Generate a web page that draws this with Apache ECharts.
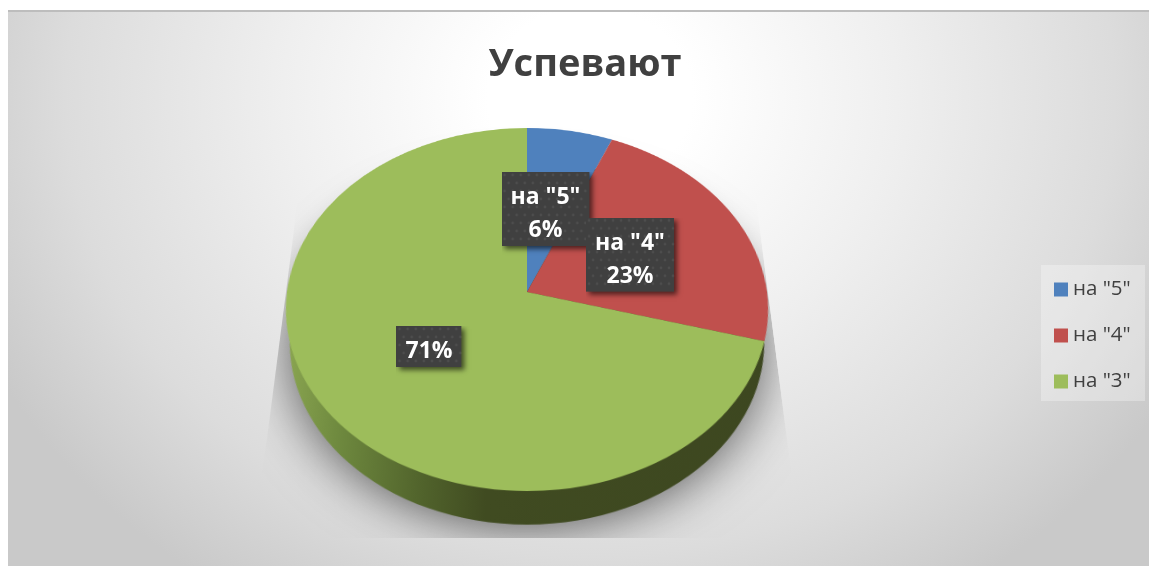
<!DOCTYPE html>
<html>
<head>
<meta charset="utf-8">
<style>
html, body { margin: 0; padding: 0; width: 1149px; height: 566px; overflow: hidden; background: #fff; }
#plate {
    position: absolute; left: 8px; top: 10px; width: 1141px; height: 556px;
    border-top: 2px solid #bdbdbd; box-sizing: border-box;
    background: radial-gradient(ellipse 640px 560px at 582px 85px, #fff 0%, #fff 16%, #efefef 48%, #dcdcdc 82%, #c9c9c9 105%);
}
/* plane of the pie, tilted with the same perspective as the original */
#pieChart {
    position: absolute; left: 286px; top: 2px; width: 482px; height: 580px;
    transform-origin: 241px 290px;
    transform: perspective(1647px) rotateX(41.46deg);
}
#textChart { position: absolute; left: 0; top: 0; width: 1149px; height: 566px; }
</style>
<script src="https://cdn.jsdelivr.net/npm/echarts@6/dist/echarts.min.js"></script>
</head>
<body>
<div id="plate"></div>
<div id="pieChart"></div>
<div id="textChart"></div>
<script>
var categories = ['на "5"', 'на "4"', 'на "3"']
var values = [6.3, 23, 70.7]
var colors = ['#4f81bd', '#c0504d', '#9dbd5b']
var titleText = 'Успевают'

var FONT = '"Open Sans", "Noto Sans", sans-serif'
var RADIUS = 240
var WALL_RADIUS = 232
var DEPTH = 44
// room kept right and below each label box for its shadow
var SHADOW_ROOM = 10
// label box centers on the page, shadow room included
var labelCenters = [[550.5, 214], [635, 259.5], [434, 351.5]]

var wallColor = {
    type: 'linear', x: 0, y: 0, x2: 1, y2: 0,
    colorStops: [
        { offset: 0, color: '#8aa551' },
        { offset: 0.12, color: '#6f8a3f' },
        { offset: 0.3, color: '#50622b' },
        { offset: 0.42, color: '#404b21' },
        { offset: 1, color: '#3d4720' }
    ]
}

// dark label fill with the faint dots and the shadow of the original,
// an image background drops the label's own shadow
function labelFill(w, h) {
    var c = document.createElement('canvas')
    c.width = w + SHADOW_ROOM
    c.height = h + SHADOW_ROOM
    var ctx = c.getContext('2d')
    ctx.shadowBlur = 5
    ctx.shadowColor = 'rgba(0,0,0,0.6)'
    ctx.shadowOffsetX = 3
    ctx.shadowOffsetY = 3
    ctx.fillStyle = '#404040'
    ctx.fillRect(0, 0, w, h)
    ctx.shadowColor = 'transparent'
    ctx.fillStyle = 'rgba(255,255,255,0.07)'
    for (var y = 3; y < h; y += 8) {
        for (var x = (y % 16 == 3 ? 3 : 7); x < w; x += 8) {
            ctx.beginPath()
            ctx.arc(x, y, 1.4, 0, Math.PI * 2)
            ctx.fill()
        }
    }
    return c
}
var labelFills = [labelFill(87, 74), labelFill(88, 75), labelFill(64, 41)]

var pieChart = echarts.init(document.getElementById('pieChart'))
pieChart.setOption({
    animation: false,
    series: [{
        // side wall, only the green slice faces the viewer
        type: 'pie',
        silent: true,
        radius: [0, WALL_RADIUS],
        center: [241, 290 + DEPTH],
        label: { show: false },
        labelLine: { show: false },
        itemStyle: { color: wallColor, shadowBlur: 50, shadowColor: 'rgba(0,0,0,0.6)', shadowOffsetY: 4 },
        data: [{ name: categories[2], value: values[2] }]
    }, {
        type: 'pie',
        silent: true,
        radius: [0, RADIUS],
        center: [241, 290],
        startAngle: 90,
        label: { show: false },
        labelLine: { show: false },
        data: categories.map(function(name, i) {
            return { name: name, value: values[i], itemStyle: { color: colors[i] } }
        })
    }]
})

var textChart = echarts.init(document.getElementById('textChart'))
textChart.setOption({
    animation: false,
    textStyle: { fontFamily: FONT },
    title: {
        text: titleText,
        left: 580,
        top: 41,
        textAlign: 'center',
        textStyle: { fontFamily: FONT, fontSize: 38, fontWeight: 'bold', color: '#404040' }
    },
    graphic: [{
        type: 'rect',
        silent: true,
        z: 0,
        shape: { x: 1041, y: 265, width: 104, height: 136 },
        style: { fill: 'rgba(255,255,255,0.3)' }
    }],
    legend: {
        orient: 'vertical',
        left: 1049,
        top: 274,
        itemWidth: 14,
        itemHeight: 14,
        itemGap: 25,
        icon: 'rect',
        itemStyle: { opacity: 1 },
        textStyle: { fontFamily: FONT, fontSize: 20.5, color: '#404040' },
        data: categories
    },
    series: [{
        type: 'pie',
        silent: true,
        radius: [0, 0],
        center: [527, 292],
        startAngle: 90,
        percentPrecision: 0,
        labelLine: { show: false },
        label: {
            show: true,
            position: 'inside',
            formatter: function(p) {
                return p.dataIndex == 2 ? p.percent + '%' : p.name + '\n' + p.percent + '%'
            },
            fontFamily: FONT,
            fontSize: 23,
            fontWeight: 'bold',
            lineHeight: 33,
            color: '#fff',
            padding: [8, 9 + SHADOW_ROOM, SHADOW_ROOM, 9]
        },
        labelLayout: function(p) {
            return { x: labelCenters[p.dataIndex][0], y: labelCenters[p.dataIndex][1], align: 'center', verticalAlign: 'middle' }
        },
        data: categories.map(function(name, i) {
            return {
                name: name,
                value: values[i],
                itemStyle: { color: colors[i] },
                label: { backgroundColor: { image: labelFills[i] } }
            }
        })
    }]
})
</script>
</body>
</html>
